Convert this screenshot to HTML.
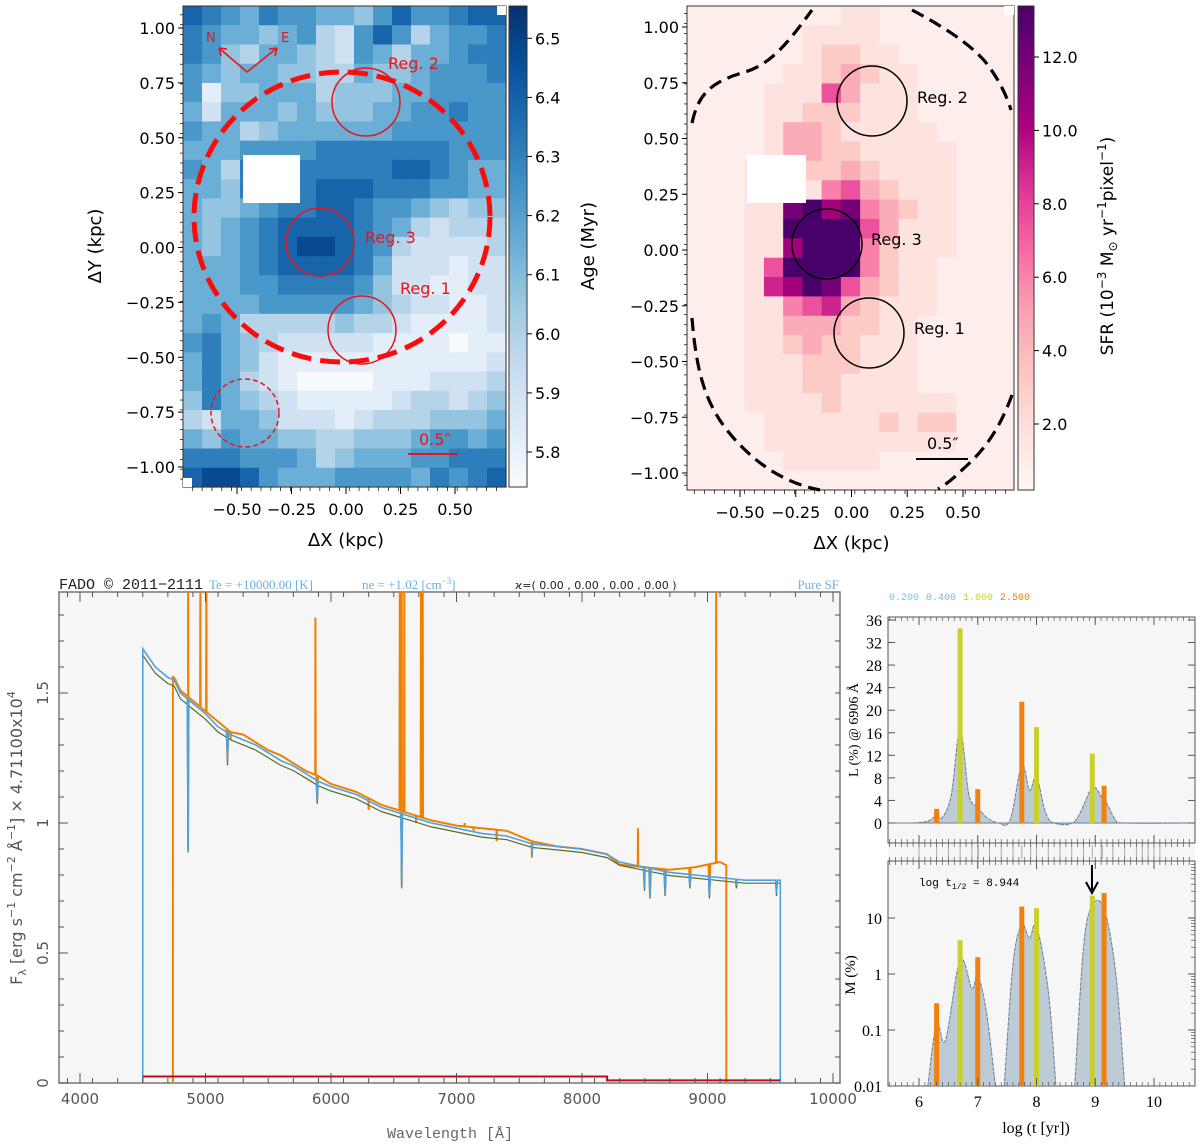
<!DOCTYPE html>
<html><head><meta charset="utf-8">
<style>
html,body{margin:0;padding:0;background:#fff;}
svg{display:block;font-family:"DejaVu Sans","Liberation Sans",sans-serif;}
.tk{font-size:16px;fill:#000;}
.ser{font-family:"Liberation Serif","DejaVu Serif",serif;}
.mono{font-family:"Liberation Mono","DejaVu Sans Mono",monospace;}
</style></head>
<body>
<svg id="fig" width="1200" height="1146" viewBox="0 0 1200 1146" xmlns="http://www.w3.org/2000/svg">
<defs>
<linearGradient id="gBlues" x1="0" y1="1" x2="0" y2="0">
<stop offset="0" stop-color="#f7fbff"/><stop offset="0.125" stop-color="#deebf7"/><stop offset="0.25" stop-color="#c6dbef"/><stop offset="0.375" stop-color="#9ecae1"/><stop offset="0.5" stop-color="#6baed6"/><stop offset="0.625" stop-color="#4292c6"/><stop offset="0.75" stop-color="#2171b5"/><stop offset="0.875" stop-color="#08519c"/><stop offset="1" stop-color="#08306b"/>
</linearGradient>
<linearGradient id="gRdPu" x1="0" y1="1" x2="0" y2="0">
<stop offset="0" stop-color="#fff7f3"/><stop offset="0.125" stop-color="#fde0dd"/><stop offset="0.25" stop-color="#fcc5c0"/><stop offset="0.375" stop-color="#fa9fb5"/><stop offset="0.5" stop-color="#f768a1"/><stop offset="0.625" stop-color="#dd3497"/><stop offset="0.75" stop-color="#ae017e"/><stop offset="0.875" stop-color="#7a0177"/><stop offset="1" stop-color="#49006a"/>
</linearGradient>
<clipPath id="clipSpec"><rect x="59" y="592" width="781" height="491"/></clipPath>
<clipPath id="clipL"><rect x="888" y="617" width="307" height="226"/></clipPath>
<clipPath id="clipM"><rect x="888" y="861" width="307" height="225"/></clipPath>
</defs>
<g id="ageMap"></g>
<g id="sfrMap"></g>
<g id="spec"></g>
<g id="sfh"></g>
</svg>
<script>
// ---------- Map data ----------
const ageRows = [
"87657665546866788","76554563268635667","76435543265355677","65455443354456667",
"61445553444556666","52555454445566766","65534555555666666","55566667777777666",
"65377777777887655","55477778887776655","54456778876654344","54567888876532333",
"54567899876322223","55567888875222122","55566777764221122","55556666654322112",
"56533333433211112","67543222221111011","57542111111111112","57532100001112223",
"47543211111233234","32554222123334445","54655443344456656","77766653455566777",
"89986555666657678"];
const sfrRows = [
"00000000110000000","00000011110000000","00000012211000000","00000112321100000",
"00001115311100000","00001122211100000","00001332111110000","00001332211111000",
"00011122321111000","00011114532111000","00011897843211000","00011999953111000",
"00011799942111000","00015999942110000","00016798532110000","00011456321110000",
"00011333221100000","00011232211100000","00011122211100000","00011122111100000",
"00011112111111000","00001111112122000","00001111111111000","00000111110000000",
"00000000000000000"];
const mapTicks = [1.0,0.75,0.5,0.25,0.0,-0.25,-0.5,-0.75,-1.0];
const mapXTicks = [-0.5,-0.25,0.0,0.25,0.5];
const ageCbTicks = [5.8,5.9,6.0,6.1,6.2,6.3,6.4,6.5];
const sfrCbTicks = [2,4,6,8,10,12];

const NS="http://www.w3.org/2000/svg";
function mk(parent,tag,attrs,text){const e=document.createElementNS(NS,tag);for(const k in attrs)e.setAttribute(k,attrs[k]);if(text!==undefined)e.textContent=text;parent.appendChild(e);return e;}
const blues=["#f7fbff","#deebf7","#c6dbef","#9ecae1","#6baed6","#4292c6","#2171b5","#08519c","#08306b"];
const rdpu=["#fdeeec","#fde0dd","#fcc5c0","#fa9fb5","#f768a1","#dd3497","#ae017e","#7a0177","#49006a"];
function cmap(list,t){t=Math.max(0,Math.min(1,t));const p=t*(list.length-1);const i=Math.min(list.length-2,Math.floor(p));const f=p-i;
 const a=list[i],b=list[i+1];const c=k=>Math.round(parseInt(a.substr(k,2),16)*(1-f)+parseInt(b.substr(k,2),16)*f);return `rgb(${c(1)},${c(3)},${c(5)})`;}
function fmt(v){return (v<0?"\u2212":"")+Math.abs(v).toFixed(2);}

function drawMap(g,rows,cm,scale,box,sx,sy,prefix){
 const nR=rows.length,nC=rows[0].length;const cw=(box.x1-box.x0)/nC,ch=(box.y1-box.y0)/nR;
 rows.forEach((row,r)=>{for(let c=0;c<nC;c++){const v=+row[c];
  const el=mk(g,"rect",{x:box.x0+c*cw,y:box.y0+r*ch,width:cw+0.6,height:ch+0.6,fill:cmap(cm,scale(v))});
  
  }});
 const fr=mk(g,"rect",{x:box.x0,y:box.y0,width:box.x1-box.x0,height:box.y1-box.y0,fill:"none",stroke:"#333","stroke-width":1});
 
 
 mapTicks.forEach(v=>{const y=sy(v);mk(g,"line",{x1:box.x0-5,x2:box.x0,y1:y,y2:y,stroke:"#000"});
  const t=mk(g,"text",{x:box.x0-8,y:y+6,"text-anchor":"end",class:"tk"},fmt(v));
  
  });
 for(let v=-1.1;v<=1.1;v+=0.045){const y=sy(v);if(y>box.y0&&y<box.y1)mk(g,"line",{x1:box.x0-3,x2:box.x0,y1:y,y2:y,stroke:"#000","stroke-width":0.7});}
 for(let v=-0.75;v<=0.75;v+=0.045){const x=sx(v);if(x>box.x0&&x<box.x1)mk(g,"line",{x1:x,x2:x,y1:box.y1,y2:box.y1+4,stroke:"#000","stroke-width":0.7});}
 mapXTicks.forEach(v=>{const x=sx(v);mk(g,"line",{x1:x,x2:x,y1:box.y1,y2:box.y1+7,stroke:"#000"});
  const t=mk(g,"text",{x:x,y:box.y1+28,"text-anchor":"middle",class:"tk"},fmt(v));
  
  });
 const xl=mk(g,"text",{x:sx(0),y:box.y1+59,"text-anchor":"middle","font-size":"18"},"\u0394X (kpc)");
 
 
}

// Age map
(function(){
 const g=document.getElementById('ageMap');
 const box={x0:183,x1:506,y0:6,y1:487};
 const sx=v=>346+v*218, sy=v=>247.5-v*219.5;
 drawMap(g,ageRows,blues,v=>v/10,box,sx,sy,'age');
 mk(g,"rect",{x:243,y:155,width:57,height:48,fill:"#fff"});
 mk(g,"rect",{x:497,y:6,width:9,height:9,fill:"#fff"});
 mk(g,"rect",{x:183,y:478,width:9,height:9,fill:"#fff"});
 const yl=mk(g,"text",{transform:"translate(101,246) rotate(-90)","text-anchor":"middle","font-size":"18"},"\u0394Y (kpc)");
 
 
 mk(g,"rect",{x:509,y:6,width:18,height:481,fill:"url(#gBlues)",stroke:"#333","stroke-width":1});
 ageCbTicks.forEach(v=>{const y=452-(v-5.8)*591;mk(g,"line",{x1:527,x2:532,y1:y,y2:y,stroke:"#000"});
  const t=mk(g,"text",{x:535,y:y+6,class:"tk"},v.toFixed(1));
  
  });
 const cl=mk(g,"text",{transform:"translate(594,246) rotate(-90)","text-anchor":"middle","font-size":"18"},"Age (Myr)");
 
 
 const R="#e8141c";
 mk(g,"ellipse",{cx:342,cy:217,rx:148,ry:145,fill:"none",stroke:"#ff0a0a","stroke-width":5,"stroke-dasharray":"20 9"});
 mk(g,"circle",{cx:366,cy:102,r:34,fill:"none",stroke:R,"stroke-width":1.5});
 mk(g,"circle",{cx:320,cy:242,r:34,fill:"none",stroke:R,"stroke-width":1.5});
 mk(g,"circle",{cx:362,cy:330,r:34,fill:"none",stroke:R,"stroke-width":1.5});
 mk(g,"circle",{cx:245,cy:413,r:34,fill:"none",stroke:R,"stroke-width":1.5,"stroke-dasharray":"5 3"});
 [["Reg. 2",388,69],["Reg. 3",365,243],["Reg. 1",400,294]].forEach(a=>{const t=mk(g,"text",{x:a[1],y:a[2],fill:R,"font-size":"16"},a[0]);
  
  });
 mk(g,"path",{d:"M219,48 L247,72 L277,48 M219,48 l2,8 M219,48 l8,1 M277,48 l-8,1 M277,48 l-2,8",stroke:R,"stroke-width":1.6,fill:"none"});
 mk(g,"text",{x:206,y:42,fill:R,"font-size":"13"},"N");
 mk(g,"text",{x:281,y:42,fill:R,"font-size":"13"},"E");
 mk(g,"line",{x1:408,x2:458,y1:454,y2:454,stroke:R,"stroke-width":2});
 const sb=mk(g,"text",{x:419,y:445,fill:R,"font-size":"16"},"0.5\u2033");
 
 
})();

// SFR map
(function(){
 const g=document.getElementById('sfrMap');
 const box={x0:687,x1:1014,y0:6,y1:490};
 const sx=v=>851.5+v*223, sy=v=>250-v*223;
 drawMap(g,sfrRows,rdpu,v=>v/9,box,sx,sy,'sfr');
 mk(g,"rect",{x:747,y:155,width:59,height:48,fill:"#fff"});
 mk(g,"rect",{x:1004,y:6,width:10,height:9,fill:"#fff"});
 mk(g,"rect",{x:1018,y:6,width:16,height:484,fill:"url(#gRdPu)",stroke:"#333","stroke-width":1});
 sfrCbTicks.forEach(v=>{const y=424-(v-2)*36.7;mk(g,"line",{x1:1034,x2:1039,y1:y,y2:y,stroke:"#000"});
  const t=mk(g,"text",{x:1042,y:y+6,class:"tk"},v.toFixed(1));
  
  });
 const cl=mk(g,"text",{transform:"translate(1113,246) rotate(-90)","text-anchor":"middle","font-size":"17"});
 
 
 cl.innerHTML='SFR (10<tspan dy="-7" font-size="12">\u22123</tspan><tspan dy="7"> M</tspan><tspan dy="4" font-size="12">\u2299</tspan><tspan dy="-4"> yr</tspan><tspan dy="-7" font-size="12">\u22121</tspan><tspan dy="7">pixel</tspan><tspan dy="-7" font-size="12">\u22121</tspan><tspan dy="7">)</tspan>';
 const D={fill:"none",stroke:"#000","stroke-width":3.2,"stroke-dasharray":"13 7"};
 mk(g,"path",Object.assign({d:"M692,123 C698,95 710,82 745,72 C772,64 790,40 812,10"},D));
 mk(g,"path",Object.assign({d:"M912,10 C950,30 978,50 990,68 C1002,85 1008,100 1011,110"},D));
 mk(g,"path",Object.assign({d:"M692,318 C697,380 708,412 740,445 C770,476 800,486 820,490"},D));
 mk(g,"path",Object.assign({d:"M1012,395 C1000,428 985,450 962,470 C952,480 945,485 938,489"},D));
 mk(g,"circle",{cx:872,cy:101,r:35,fill:"none",stroke:"#000","stroke-width":1.5});
 mk(g,"circle",{cx:827,cy:244,r:35,fill:"none",stroke:"#000","stroke-width":1.5});
 mk(g,"circle",{cx:869,cy:333,r:35,fill:"none",stroke:"#000","stroke-width":1.5});
 [["Reg. 2",917,103],["Reg. 3",871,245],["Reg. 1",914,334]].forEach(a=>{const t=mk(g,"text",{x:a[1],y:a[2],fill:"#000","font-size":"16"},a[0]);
  
  });
 mk(g,"line",{x1:916,x2:968,y1:459,y2:459,stroke:"#000","stroke-width":2});
 mk(g,"text",{x:927,y:449,"font-size":"16"},"0.5\u2033");
})();

// ---------- Spectrum data ----------
const contWave = [4500,4600,4700,4750,4800,4900,5000,5100,5200,5300,5400,5500,5600,5700,5800,5900,6000,6200,6400,6600,6800,7000,7200,7400,7600,7800,8000,8200,8300,8500,8700,8900,9100,9300,9500,9580];
const modelFlux = [1.67,1.60,1.56,1.55,1.50,1.46,1.42,1.37,1.34,1.32,1.30,1.27,1.24,1.22,1.19,1.16,1.14,1.11,1.06,1.03,1.00,0.98,0.96,0.95,0.92,0.91,0.90,0.88,0.85,0.83,0.81,0.80,0.79,0.78,0.78,0.78];
const obsFlux = [1.67,1.60,1.57,1.56,1.51,1.47,1.43,1.39,1.35,1.34,1.31,1.28,1.26,1.23,1.20,1.18,1.15,1.12,1.07,1.04,1.01,0.99,0.98,0.97,0.93,0.91,0.90,0.88,0.84,0.83,0.82,0.83,0.85,0.80,0.79,0.78];
const dipWave = [4861,5175,5890,6563,7600,8498,8542,8662,8860,9015,9230,9550];
const dipFlux = [0.90,1.24,1.09,0.76,0.88,0.75,0.72,0.73,0.76,0.72,0.76,0.73];
const lineWave = [4861,4959,5007,5200,5876,6300,6548,6563,6584,6678,6717,6731,7065,7136,7320,8446,9069];
const linePeak = [2.0,2.0,2.0,1.32,1.79,1.05,2.0,2.0,2.0,1.00,2.0,2.0,1.00,0.97,0.93,0.98,2.0];
const obsStart = 4740, obsEnd = 9150;
const spTicks = [4000,5000,6000,7000,8000,9000,10000];
const spYTicks = [0,0.5,1,1.5];

(function(){
 const g=document.getElementById('spec');
 const X=l=>80+(l-4000)*0.1255, Y=f=>1083-f*260;
 mk(g,"rect",{x:59,y:592,width:781,height:491,fill:"#f6f6f6",stroke:"#777","stroke-width":1.5});
 const interp=(arrX,arrY,x)=>{for(let i=0;i<arrX.length-1;i++){if(x<=arrX[i+1]){const f=(x-arrX[i])/(arrX[i+1]-arrX[i]);return arrY[i]+f*(arrY[i+1]-arrY[i]);}}return arrY[arrY.length-1];};
 function series(fluxArr,lo,hi,withDips,withLines,scale){
  let pts=[];contWave.forEach((w,i)=>{if(w>=lo&&w<=hi)pts.push([w,fluxArr[i]*scale]);});
  pts.push([lo,interp(contWave,fluxArr,lo)*scale]);pts.push([hi,interp(contWave,fluxArr,hi)*scale]);
  if(withDips)dipWave.forEach((w,i)=>{if(w>lo&&w<hi){pts.push([w-7,interp(contWave,fluxArr,w-7)*scale]);pts.push([w,dipFlux[i]*scale]);pts.push([w+7,interp(contWave,fluxArr,w+7)*scale]);}});
  if(withLines)lineWave.forEach((w,i)=>{if(w>lo&&w<hi){pts.push([w-2,interp(contWave,fluxArr,w-2)]);pts.push([w,linePeak[i]]);pts.push([w+2,interp(contWave,fluxArr,w+2)]);}});
  pts.sort((a,b)=>a[0]-b[0]);
  let d=`M${X(lo)},${Y(0)}`;pts.forEach(p=>d+=` L${X(p[0]).toFixed(1)},${Y(p[1]).toFixed(1)}`);d+=` L${X(hi)},${Y(0)}`;return d;}
 const cg=mk(g,"g",{"clip-path":"url(#clipSpec)"});
 const o=mk(cg,"path",{d:series(obsFlux,obsStart,obsEnd,true,true,1),fill:"none",stroke:"#f08000","stroke-width":2});
 
 
 const ol=mk(cg,"path",{d:series(modelFlux,contWave[0],contWave[contWave.length-1],true,false,0.985),fill:"none",stroke:"#5a6b2a","stroke-width":1.2});
 
 
 const b=mk(cg,"path",{d:series(modelFlux,contWave[0],contWave[contWave.length-1],true,false,1),fill:"none",stroke:"#4ea2e0","stroke-width":1.6});
 
 
 const rd=mk(cg,"path",{d:`M${X(4500)},${Y(0.025)} L${X(8200)},${Y(0.025)} L${X(8200)},${Y(0.01)} L${X(9580)},${Y(0.01)}`,fill:"none",stroke:"#b01020","stroke-width":2});
 
 
 spTicks.forEach(v=>{const x=X(v);mk(g,"line",{x1:x,x2:x,y1:1083,y2:1073,stroke:"#555"});mk(g,"line",{x1:x,x2:x,y1:592,y2:602,stroke:"#555"});
  const t=mk(g,"text",{x:x,y:1104,"text-anchor":"middle","font-size":"15",fill:"#555"},v);
  
  });
 for(let v=3900;v<=10000;v+=200){const x=X(v);if(x>59&&x<840){mk(g,"line",{x1:x,x2:x,y1:1083,y2:1078,stroke:"#555"});mk(g,"line",{x1:x,x2:x,y1:592,y2:597,stroke:"#555"});}}
 for(let f=0;f<=1.85;f+=0.1){const y=Y(f);mk(g,"line",{x1:59,x2:64,y1:y,y2:y,stroke:"#555"});mk(g,"line",{x1:835,x2:840,y1:y,y2:y,stroke:"#555"});}
 spYTicks.forEach(v=>{const y=Y(v);mk(g,"line",{x1:59,x2:68,y1:y,y2:y,stroke:"#555"});
  const t=mk(g,"text",{transform:`translate(48,${y}) rotate(-90)`,"text-anchor":"middle","font-size":"15",fill:"#555"},v);
  
  });
 const yt=mk(g,"text",{transform:"translate(22,838) rotate(-90)","text-anchor":"middle","font-size":"16",fill:"#555"});
 
 
 yt.innerHTML='F<tspan dy="4" font-size="11">\u03bb</tspan><tspan dy="-4"> [erg s</tspan><tspan dy="-7" font-size="11">\u22121</tspan><tspan dy="7"> cm</tspan><tspan dy="-7" font-size="11">\u22122</tspan><tspan dy="7"> \u00c5</tspan><tspan dy="-7" font-size="11">\u22121</tspan><tspan dy="7">] \u00d7 4.71100x10</tspan><tspan dy="-7" font-size="11">4</tspan>';
 const xt=mk(g,"text",{x:450,y:1138,"text-anchor":"middle","font-size":"15",fill:"#666",class:"mono"},"Wavelength [\u00c5]");
 
 
 const h1=mk(g,"text",{x:59,y:589,"font-size":"15",fill:"#222",class:"mono"},"FADO \u00a9 2011\u22122111");
 
 
 mk(g,"text",{x:209,y:589,"font-size":"13",fill:"#6bb0e0",class:"ser"},"Te = +10000.00 [K]");
 const ne=mk(g,"text",{x:362,y:589,"font-size":"13",fill:"#6bb0e0",class:"ser"});
 ne.innerHTML='ne = +1.02 [cm<tspan dy="-5" font-size="9">\u22123</tspan><tspan dy="5">]</tspan>';
 mk(g,"text",{x:515,y:589,"font-size":"11",fill:"#222"},"\u03f0=( 0.00 , 0.00 , 0.00 , 0.00 )");
 mk(g,"text",{x:839,y:589,"text-anchor":"end","font-size":"13",fill:"#6bb0e0",class:"ser"},"Pure SF");
})();

// ---------- SFH data ----------
const barAge = [6.30,6.70,7.00,7.75,8.00,8.95,9.15];
const barLum = [2.5,34.5,6.0,21.5,17.0,12.3,6.6];
const barMass = [0.3,4.0,2.0,16.0,15.0,25.0,28.0];
const barZ = ["2.500","1.000","2.500","2.500","1.000","1.000","2.500"];
const lumCurveAge = [5.9,6.15,6.3,6.4,6.55,6.7,6.85,7.0,7.15,7.35,7.55,7.75,7.88,8.0,8.15,8.3,8.65,8.95,9.12,9.2,9.35,9.5,10.7];
const lumCurveVal = [0,0.3,1.3,1.0,5.0,16.5,5.0,2.8,1.0,0,0.5,10.3,5.8,8.2,2.0,0,0.3,6.2,4.3,3.4,0.5,0,0];
const massSeg1Age = [6.15,6.3,6.45,6.7,6.9,7.0,7.15,7.3];
const massSeg1Val = [0.01,0.13,0.065,1.8,0.55,0.95,0.2,0.01];
const massSeg2Age = [7.45,7.6,7.75,7.88,8.0,8.2,8.33];
const massSeg2Val = [0.01,1.5,7.5,4.3,7.3,0.5,0.01];
const massSeg3Age = [8.65,8.8,8.95,9.15,9.35,9.5];
const massSeg3Val = [0.01,3.0,17,14.5,1.0,0.01];
const baseAges = [6.0,6.3,6.5,6.7,6.9,7.0,7.01,7.2,7.4,7.6,7.75,7.9,8.0,8.2,8.4,8.6,8.8,8.95,9.1,9.12,9.3,9.5,9.7,9.8,9.9,10.0,10.1];
const lumTicks = [0,4,8,12,16,20,24,28,32,36];
const massTicks = [0.01,0.1,1,10];
const ageTicks = [6,7,8,9,10];

(function(){
 const g=document.getElementById('sfh');
 const X=a=>919+(a-6)*58.75, YL=v=>823-v*5.64, YM=v=>918-(Math.log10(v)-1)*56;
 const zcol={"0.200":"#7ec0e8","0.400":"#8aaec8","1.000":"#c8d030","2.500":"#f08010"};
 mk(g,"rect",{x:888,y:617,width:307,height:469,fill:"#f6f6f6"});
 mk(g,"rect",{x:888,y:617,width:307,height:226,fill:"none",stroke:"#555"});
 mk(g,"rect",{x:888,y:861,width:307,height:225,fill:"none",stroke:"#555"});
 baseAges.forEach(a=>mk(g,"line",{x1:X(a),x2:X(a),y1:845,y2:859,stroke:"#aaa","stroke-width":1}));
 function smooth(xs,ys,Yf){let p=xs.map((x,i)=>[X(x),Yf(ys[i])]);let d=`M${p[0][0]},${p[0][1]}`;
  for(let i=0;i<p.length-1;i++){const p0=p[Math.max(0,i-1)],p1=p[i],p2=p[i+1],p3=p[Math.min(p.length-1,i+2)];
   d+=` C${(p1[0]+(p2[0]-p0[0])/6).toFixed(1)},${(p1[1]+(p2[1]-p0[1])/6).toFixed(1)} ${(p2[0]-(p3[0]-p1[0])/6).toFixed(1)},${(p2[1]-(p3[1]-p1[1])/6).toFixed(1)} ${p2[0].toFixed(1)},${p2[1].toFixed(1)}`;}
  return d;}
 const gl=mk(g,"g",{"clip-path":"url(#clipL)"});
 const lc=mk(gl,"path",{d:smooth(lumCurveAge,lumCurveVal,YL)+` L${X(10.7)},${YL(0)} L${X(5.9)},${YL(0)} Z`,fill:"#bccbd6",stroke:"#6a7f90","stroke-width":1,"stroke-dasharray":"4 1"});
 
 
 mk(gl,"line",{x1:888,x2:1195,y1:YL(0),y2:YL(0),stroke:"#6a7f90"});
 barAge.forEach((a,i)=>{const r=mk(gl,"rect",{x:X(a)-2.5,y:YL(barLum[i]),width:5,height:YL(0)-YL(barLum[i]),fill:zcol[barZ[i]]});
  
  });
 const gm=mk(g,"g",{"clip-path":"url(#clipM)"});
 [[massSeg1Age,massSeg1Val],[massSeg2Age,massSeg2Val],[massSeg3Age,massSeg3Val]].forEach(s=>{
  const p=mk(gm,"path",{d:smooth(s[0],s[1],YM)+" Z",fill:"#bccbd6",stroke:"#6a7f90","stroke-width":1,"stroke-dasharray":"4 1"});
  
  });
 barAge.forEach((a,i)=>{const r=mk(gm,"rect",{x:X(a)-2.5,y:YM(barMass[i]),width:5,height:1086-YM(barMass[i]),fill:zcol[barZ[i]]});
  
  });
 mk(g,"path",{d:`M${X(8.944)},${865} L${X(8.944)},${890}`,stroke:"#000","stroke-width":2});
 mk(g,"path",{d:`M${X(8.944)-6},${882} L${X(8.944)},${893} L${X(8.944)+6},${882}`,stroke:"#000","stroke-width":2,fill:"none"});
 const th=mk(g,"text",{x:919,y:886,"font-size":"11",class:"mono"});
 th.innerHTML='log t<tspan dy="3" font-size="8">1/2</tspan><tspan dy="-3"> = 8.944</tspan>';
 for(let a=5.5;a<=10.7;a+=0.1){const x=X(a);if(x>888&&x<1195){[[617,621],[839,843],[843,847],[857,861],[861,865],[1082,1086]].forEach(yy=>mk(g,"line",{x1:x,x2:x,y1:yy[0],y2:yy[1],stroke:"#555","stroke-width":0.7}));}}
 ageTicks.forEach(a=>{const x=X(a);[[617,625],[835,843],[861,869],[1078,1086]].forEach(yy=>mk(g,"line",{x1:x,x2:x,y1:yy[0],y2:yy[1],stroke:"#555"}));
  const t=mk(g,"text",{x:x,y:1107,"text-anchor":"middle","font-size":"16",class:"ser"},a);
  
  });
 lumTicks.forEach(v=>{const y=YL(v);mk(g,"line",{x1:888,x2:895,y1:y,y2:y,stroke:"#555"});mk(g,"line",{x1:1188,x2:1195,y1:y,y2:y,stroke:"#555"});
  const t=mk(g,"text",{x:882,y:y+6,"text-anchor":"end","font-size":"16",class:"ser"},v);
  
  });
 massTicks.forEach(v=>{const y=YM(v);mk(g,"line",{x1:888,x2:895,y1:y,y2:y,stroke:"#555"});mk(g,"line",{x1:1188,x2:1195,y1:y,y2:y,stroke:"#555"});
  for(let k=2;k<10;k++){const yy=YM(v*k);if(yy>861)mk(g,"line",{x1:1191,x2:1195,y1:yy,y2:yy,stroke:"#555","stroke-width":0.7});}
  const t=mk(g,"text",{x:882,y:y+6,"text-anchor":"end","font-size":"16",class:"ser"},v);
  
  });
 const ly=mk(g,"text",{transform:"translate(858,730) rotate(-90)","text-anchor":"middle","font-size":"14",class:"ser"},"L (%) @ 6906 \u00c5");
 
 
 const my=mk(g,"text",{transform:"translate(855,975) rotate(-90)","text-anchor":"middle","font-size":"15",class:"ser"},"M (%)");
 
 
 const xt=mk(g,"text",{x:1036,y:1133,"text-anchor":"middle","font-size":"16",class:"ser"},"log (t [yr])");
 
 
 Object.keys(zcol).forEach((z,i)=>{const t=mk(g,"text",{x:889+i*37,y:600,"font-size":"10",fill:zcol[z],class:"mono"},z);
  
  });
})();
</script>
</body></html>
